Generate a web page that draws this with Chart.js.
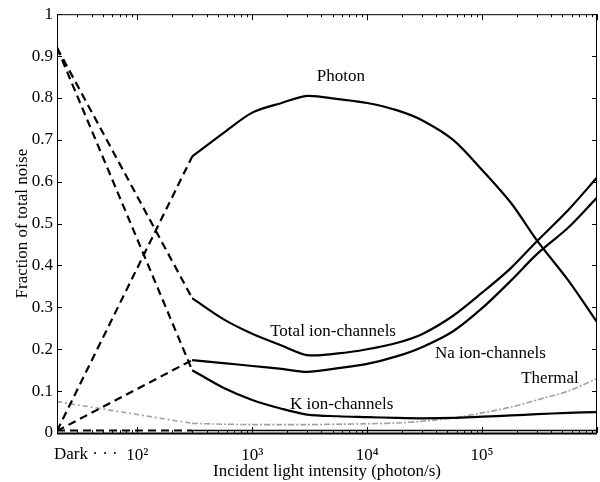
<!DOCTYPE html>
<html><head><meta charset="utf-8">
<script src="https://cdn.jsdelivr.net/npm/chart.js@4/dist/chart.umd.min.js"></script>
<style>html,body{margin:0;padding:0;background:#fff;}#wrap{width:600px;height:482px;}</style>
</head><body><div id="wrap"><canvas id="c" width="600" height="482"></canvas></div>
<script>
// ---- data ----
const intensity = [300, 560, 1000, 1800, 3000, 5600, 10000, 18000, 30000, 56000, 100000, 180000, 300000, 560000, 1000000];
const photon    = [0.66, 0.716, 0.765, 0.788, 0.805, 0.797, 0.788, 0.771, 0.747, 0.70, 0.628, 0.548, 0.46, 0.365, 0.265];
const totalIon  = [0.322, 0.272, 0.237, 0.209, 0.186, 0.19, 0.20, 0.215, 0.236, 0.28, 0.335, 0.395, 0.458, 0.532, 0.61];
const naIon     = [0.174, 0.167, 0.16, 0.153, 0.146, 0.155, 0.165, 0.183, 0.205, 0.243, 0.298, 0.365, 0.427, 0.49, 0.562];
const kIon      = [0.15, 0.108, 0.079, 0.058, 0.044, 0.04, 0.038, 0.036, 0.035, 0.036, 0.039, 0.042, 0.045, 0.048, 0.05];
const thermal   = [0.023, 0.021, 0.02, 0.02, 0.02, 0.021, 0.022, 0.024, 0.028, 0.036, 0.048, 0.062, 0.079, 0.10, 0.13];
const floorX    = [300, 1000000];
const floorY    = [0.006, 0.006];

// "Dark" condition, plotted at the left edge and joined by dashed lines to the first measured point
const darkX = 20;
const darkPhoton = 0.005, darkTotal = 0.92, darkNa = 0.005, darkK = 0.92, darkThermal = 0.075, darkFloor = 0.006;

const seriesNames = ['Photon', 'Total ion-channels', 'Na ion-channels', 'K ion-channels', 'Thermal'];
const xTickValues = [100, 1000, 10000, 100000];
const xTickLabels = ['10\u00B2', '10\u00B3', '10\u2074', '10\u2075'];
const yTickValues = [0, 0.1, 0.2, 0.3, 0.4, 0.5, 0.6, 0.7, 0.8, 0.9, 1];
const yTickLabels = ['0', '0.1', '0.2', '0.3', '0.4', '0.5', '0.6', '0.7', '0.8', '0.9', '1'];
const xTitle = 'Incident light intensity (photon/s)';
const yTitle = 'Fraction of total noise';
const darkLabel = 'Dark \u00B7 \u00B7 \u00B7';

// ---- chart ----
const FONT = {family: '"Liberation Serif", "Times New Roman", serif', size: 17};
const pts = (xs, ys) => xs.map((x, i) => ({x: x, y: ys[i]}));
const solid = (data, color, w) => ({data, borderColor: color, borderWidth: w, pointRadius: 0, tension: 0.3, fill: false});
const dashed = (a, b, color, w, dash) => ({data: [{x: darkX, y: a}, {x: intensity[0], y: b}], borderColor: color, borderWidth: w, borderDash: dash, pointRadius: 0, tension: 0, fill: false});

const datasets = [
  dashed(darkFloor, floorY[0], '#000', 2, [8, 5]),
  dashed(darkPhoton, photon[0], '#000', 2.2, [8, 5]),
  dashed(darkTotal, totalIon[0], '#000', 2.2, [8, 5]),
  dashed(darkNa, naIon[0], '#000', 2.2, [8, 5]),
  dashed(darkK, kIon[0], '#000', 2.2, [8, 5]),
  dashed(darkThermal, thermal[0], '#a0a0a0', 1.6, [5, 3, 2, 3]),
  solid(pts(floorX, floorY), '#000', 1.5),
  solid(pts(intensity, photon), '#000', 2.2),
  solid(pts(intensity, totalIon), '#000', 2.2),
  solid(pts(intensity, naIon), '#000', 2.2),
  solid(pts(intensity, kIon), '#000', 2.2),
  Object.assign(solid(pts(intensity, thermal), '#a0a0a0', 1.6), {borderDash: [6, 2, 2, 2]})
];

// label anchor points in data coordinates (x intensity, y fraction)
const labelAnchors = [[5900, 0.852], [5050, 0.243], [118000, 0.189], [6000, 0.067], [390000, 0.131]];

const framePlugin = {
  id: 'frame',
  afterDraw(chart) {
    const {ctx, chartArea: ca, scales: {x, y}} = chart;
    ctx.save();
    ctx.strokeStyle = '#000';
    ctx.lineWidth = 1;
    ctx.beginPath();
    ctx.moveTo(ca.left + 0.5, ca.bottom); ctx.lineTo(ca.left + 0.5, ca.top + 0.5);
    ctx.lineTo(ca.right - 0.5, ca.top + 0.5); ctx.lineTo(ca.right - 0.5, ca.bottom);
    ctx.stroke();
    ctx.lineWidth = 2;
    ctx.beginPath(); ctx.moveTo(ca.left, ca.bottom + 0.5); ctx.lineTo(ca.right, ca.bottom + 0.5); ctx.stroke();
    ctx.lineWidth = 1;
    ctx.beginPath();
    yTickValues.forEach(v => {
      const py = Math.round(y.getPixelForValue(v)) + 0.5;
      ctx.moveTo(ca.left, py); ctx.lineTo(ca.left + 5, py);
      ctx.moveTo(ca.right - 5, py); ctx.lineTo(ca.right, py);
    });
    for (let d = 10; d <= 1000000; d *= 10) {
      for (let m = 1; m <= 9; m++) {
        const v = m * d;
        if (v < darkX || v > 1000000) continue;
        const px = Math.round(x.getPixelForValue(v)) + 0.5;
        const len = m === 1 ? 6 : 3;
        ctx.moveTo(px, ca.bottom); ctx.lineTo(px, ca.bottom - len);
        ctx.moveTo(px, ca.top); ctx.lineTo(px, ca.top + len);
      }
    }
    ctx.stroke();
    // text labels
    ctx.fillStyle = '#000';
    ctx.font = FONT.size + 'px ' + FONT.family;
    ctx.textAlign = 'center';
    ctx.textBaseline = 'middle';
    seriesNames.forEach((name, i) => {
      ctx.fillText(name, x.getPixelForValue(labelAnchors[i][0]), y.getPixelForValue(labelAnchors[i][1]));
    });
    ctx.textAlign = 'left';
    ctx.textBaseline = 'alphabetic';
    ctx.fillText(darkLabel, x.getPixelForValue(darkX) - 3, 459);
    ctx.restore();
  }
};

new Chart(document.getElementById('c'), {
  type: 'line',
  data: {datasets},
  plugins: [framePlugin],
  options: {
    responsive: false,
    animation: false,
    devicePixelRatio: 1,
    layout: {padding: {left: 0, right: 3, top: 14, bottom: 0}},
    plugins: {legend: {display: false}, tooltip: {enabled: false}},
    scales: {
      x: {
        type: 'logarithmic', min: darkX, max: 1000000,
        afterBuildTicks: s => { s.ticks = xTickValues.map(v => ({value: v})); },
        afterFit: s => { s.height = 49; },
        ticks: {callback: v => xTickLabels[xTickValues.indexOf(v)], font: FONT, color: '#000', padding: 12, maxRotation: 0, autoSkip: false},
        grid: {display: false, drawTicks: false},
        border: {display: false},
        title: {display: true, text: xTitle, font: FONT, color: '#000', padding: {top: 0, bottom: 0}}
      },
      y: {
        min: 0, max: 1,
        afterBuildTicks: s => { s.ticks = yTickValues.map(v => ({value: v})); },
        afterFit: s => { s.width = 57; },
        ticks: {callback: (v, i) => yTickLabels[i], font: FONT, color: '#000', padding: 4},
        grid: {display: false, drawTicks: false},
        border: {display: false},
        title: {display: true, text: yTitle, font: FONT, color: '#000', padding: {top: 12, bottom: 0}}
      }
    }
  }
});
</script></body></html>
